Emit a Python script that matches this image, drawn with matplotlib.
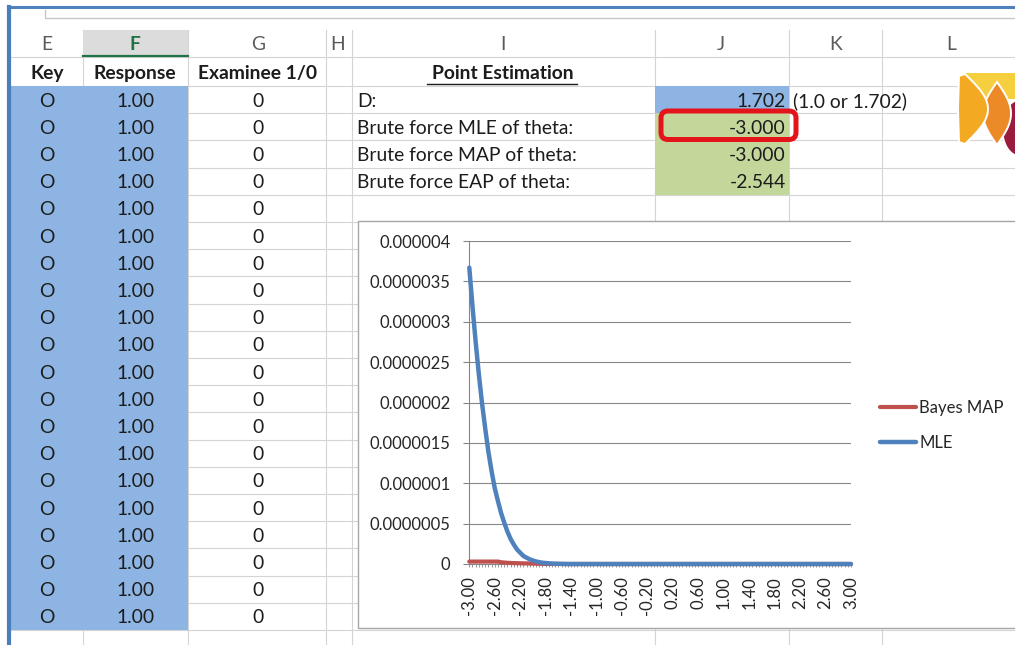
import numpy as np
import matplotlib
matplotlib.use("Agg")
import matplotlib.pyplot as plt
from matplotlib.patches import Rectangle, FancyBboxPatch, Polygon, Ellipse

plt.rcParams["font.family"] = ["Lato", "DejaVu Sans"]

# --- sheet contents ---
col_letters = ["E", "F", "G", "H", "I", "J", "K", "L"]
headers = ["Key", "Response", "Examinee 1/0"]
keys = ["O", "O", "O", "O", "O", "O", "O", "O", "O", "O",
        "O", "O", "O", "O", "O", "O", "O", "O", "O", "O"]
responses = [1.00] * 20
examinee = [0] * 20

est_title = "Point Estimation"
est_labels = ["D:", "Brute force MLE of theta:", "Brute force MAP of theta:",
              "Brute force EAP of theta:"]
est_values = [1.702, -3.000, -3.000, -2.544]
d_note = "(1.0 or 1.702)"

# --- chart data: theta grid and curves (in units of 1e-6) ---
theta = np.round(np.linspace(-3.0, 3.0, 121), 2)
mle_e6 = [3.67, 3.19, 2.75, 2.35, 1.99, 1.68, 1.39, 1.15, 0.94, 0.78,
          0.63, 0.51, 0.40, 0.31, 0.24, 0.18, 0.14, 0.10, 0.078, 0.058,
          0.043, 0.031, 0.023, 0.016, 0.012, 0.008, 0.006, 0.004, 0.003,
          0.002, 0.001] + [0.0] * 90
map_e6 = [0.030, 0.030, 0.030, 0.030, 0.030, 0.030, 0.030, 0.030, 0.030,
          0.030, 0.022, 0.018, 0.015, 0.013, 0.011, 0.010, 0.009, 0.008,
          0.007, 0.006, 0.005, 0.004, 0.003, 0.002, 0.001, 0.001] + [0.0] * 95
ytick_vals = [0, 0.5e-6, 1e-6, 1.5e-6, 2e-6, 2.5e-6, 3e-6, 3.5e-6, 4e-6]
ytick_labels = ["0", "0.0000005", "0.000001", "0.0000015", "0.000002",
                "0.0000025", "0.000003", "0.0000035", "0.000004"]

W, H = 1015, 645
GRID = "#d4d4d4"
CELL_BLUE = "#8db4e2"
CELL_GREEN = "#c4d79b"
TXT = "#1c1c1c"
CELL_FS = 13.9
DY = 1.5  # nudge so digits sit in the middle of a row

fig = plt.figure(figsize=(W / 100, H / 100), dpi=100)
ax = fig.add_axes([0, 0, 1, 1])
ax.set_xlim(0, W)
ax.set_ylim(H, 0)
ax.axis("off")

col_edges = [10, 83, 188, 326, 352, 655, 789, 882]
col_centers = [47, 135, 258, 338, 503, 721, 836, 951]
row_top = 86
row_h = 27.2
row_lines = [57] + [row_top + k * row_h for k in range(22)]

# window frame and formula box
ax.plot([8, W], [7, 7], color="#4f81bd", lw=2.2, zorder=6)
ax.plot([9, 9], [7, H], color="#4a7ebb", lw=3.0, zorder=6)
ax.plot([45, 45, W], [10, 18, 18], color="#c8c8c8", lw=1.0, zorder=1)

# grid lines
for y in row_lines:
    ax.plot([10, W], [y, y], color=GRID, lw=0.8, zorder=1)
for x in col_edges[1:]:
    ax.plot([x, x], [30, H], color=GRID, lw=0.8, zorder=1)

# header row (column letters)
ax.add_patch(Rectangle((83, 30), 105, 26, facecolor="#dcdcdc", edgecolor="none", zorder=2))
ax.plot([83, 188], [55.5, 55.5], color="#217346", lw=1.6, zorder=3)
for letter, cx in zip(col_letters, col_centers):
    if letter == "F":
        ax.text(cx, 44, letter, ha="center", va="center", fontsize=CELL_FS,
                fontweight="bold", color="#217346", zorder=4)
    else:
        ax.text(cx, 44, letter, ha="center", va="center", fontsize=CELL_FS,
                color="#5a5a5a", zorder=4)

# bold headers
for label, cx in zip(headers, col_centers[:3]):
    ax.text(cx, 72 + DY, label, ha="center", va="center", fontsize=CELL_FS,
            fontweight="bold", color=TXT, zorder=4)
ax.text(503, 72 + DY, est_title, ha="center", va="center", fontsize=CELL_FS,
        fontweight="bold", color=TXT, zorder=4)
ax.plot([427, 577], [84, 84], color=TXT, lw=1.0, zorder=4)

# key / response / examinee columns
ax.add_patch(Rectangle((10, row_top), 178, row_h * len(keys),
                       facecolor=CELL_BLUE, edgecolor="none", zorder=2))
for i, (k, r, e) in enumerate(zip(keys, responses, examinee)):
    cy = row_top + row_h * (i + 0.5) + DY
    ax.text(47, cy, k, ha="center", va="center", fontsize=CELL_FS, color=TXT, zorder=4)
    ax.text(136, cy, f"{r:.2f}", ha="center", va="center", fontsize=CELL_FS, color=TXT, zorder=4)
    ax.text(258, cy, f"{e}", ha="center", va="center", fontsize=CELL_FS, color=TXT, zorder=4)

# point estimation block
ax.add_patch(Rectangle((655, row_top), 134, row_h, facecolor=CELL_BLUE,
                       edgecolor="none", zorder=2))
ax.add_patch(Rectangle((655, row_top + row_h), 134, row_h * 3,
                       facecolor=CELL_GREEN, edgecolor="none", zorder=2))
for i, (lab, val) in enumerate(zip(est_labels, est_values)):
    cy = row_top + row_h * (i + 0.5) + DY
    ax.text(357, cy, lab, ha="left", va="center", fontsize=CELL_FS, color=TXT, zorder=4)
    ax.text(786, cy, f"{val:.3f}", ha="right", va="center", fontsize=CELL_FS,
            color=TXT, zorder=4)
ax.text(793, row_top + row_h * 0.5 + DY, d_note, ha="left", va="center",
        fontsize=CELL_FS, color=TXT, zorder=4)

# red call-out around the MLE cell
ax.add_patch(FancyBboxPatch((661, 111), 135, 28.5, boxstyle="round,pad=0,rounding_size=7",
                            facecolor="none", edgecolor="#e3151b", lw=3.6, zorder=5))

# logo
ax.add_patch(Rectangle((966, 73), 50, 26, facecolor="#f6cf3f", edgecolor="none", zorder=5))
ax.add_patch(Ellipse((1019, 128), 34, 56, facecolor="#9b1b3f", edgecolor="white", lw=1.4, zorder=5))
tt = np.linspace(0, 1, 40)
lens_y = 82 + 63 * tt
lens = np.column_stack([np.r_[997 - 14 * np.sin(np.pi * tt), (997 + 14 * np.sin(np.pi * tt))[::-1]],
                        np.r_[lens_y, lens_y[::-1]]])
ax.add_patch(Polygon(lens, closed=True, facecolor="#eb8a27", edgecolor="white", lw=1.4, zorder=6))
d_y = 74 + 70 * tt
d_shape = np.column_stack([np.r_[965 + 23 * np.sin(np.pi * tt), [959, 958, 959]],
                           np.r_[d_y, [142, 109, 76]]])
ax.add_patch(Polygon(d_shape, closed=True, facecolor="#f3aa22", edgecolor="white", lw=1.4, zorder=7))

# chart area box
ax.add_patch(Rectangle((358, 221), 700, 407, facecolor="white", edgecolor="#a6a6a6",
                       lw=1.0, zorder=8))

# --- the embedded line chart ---
AX_COL = "#868686"
CH_TXT = "#262626"
CH_FS = 12
axc = fig.add_axes([469.3 / W, 1 - 564 / H, (851 - 469.3) / W, (564 - 241) / H])
axc.patch.set_alpha(0)
axc.plot(theta, np.array(map_e6) * 1e-6, color="#c0504d", lw=3.0,
         solid_capstyle="round", clip_on=False, label="Bayes MAP", zorder=3)
axc.plot(theta, np.array(mle_e6) * 1e-6, color="#4f81bd", lw=3.2,
         solid_capstyle="round", clip_on=False, label="MLE", zorder=4)
axc.set_xlim(-3.0, 3.0)
axc.set_ylim(0, 4e-6)

axc.set_yticks(ytick_vals)
axc.set_yticklabels(ytick_labels)
axc.set_xticks(theta)
axc.set_xticklabels([f"{v:.2f}" if i % 8 == 0 else "" for i, v in enumerate(theta)],
                    rotation=90)
axc.tick_params(axis="y", length=4.5, width=0.8, color=AX_COL, pad=9,
                labelsize=CH_FS, labelcolor=CH_TXT)
axc.tick_params(axis="x", length=2.5, width=0.6, color=AX_COL, pad=6,
                labelsize=CH_FS, labelcolor=CH_TXT)
axc.grid(axis="y", color=AX_COL, lw=0.8)
axc.set_axisbelow(True)
for side in ["top", "right"]:
    axc.spines[side].set_visible(False)
for side in ["left", "bottom"]:
    axc.spines[side].set_color(AX_COL)
    axc.spines[side].set_linewidth(0.8)

axc.legend(loc="center left", bbox_to_anchor=(880 / W, 1 - 425 / H),
           bbox_transform=fig.transFigure, frameon=False, fontsize=CH_FS,
           handlelength=2.15, handletextpad=0.2, labelspacing=1.14, borderpad=0,
           borderaxespad=0, labelcolor=CH_TXT)

fig.savefig("out.png", dpi=100)
